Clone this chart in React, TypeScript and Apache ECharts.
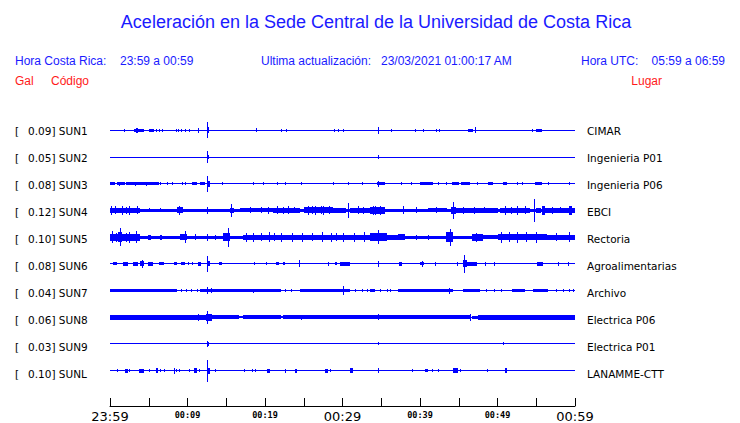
import React, { useEffect, useRef } from "react";
import * as echarts from "echarts";

// ---------- data ----------
const TITLE = "Aceleración en la Sede Central de la Universidad de Costa Rica";
const TIME_LABELS = ["23:59", "00:09", "00:19", "00:29", "00:39", "00:49", "00:59"];
const BIG_LABELS = ["23:59", "00:29", "00:59"];
const STATIONS = ["SUN1", "SUN2", "SUN3", "SUN4", "SUN5", "SUN6", "SUN7", "SUN8", "SUN9", "SUNL"];
const PEAK_GAL = ["0.09", "0.05", "0.08", "0.12", "0.10", "0.08", "0.04", "0.06", "0.03", "0.10"];
const PLACES = [
  "CIMAR", "Ingenieria P01", "Ingenieria P06", "EBCI", "Rectoria",
  "Agroalimentarias", "Archivo", "Electrica P06", "Electrica P01", "LANAMME-CTT",
];
// background noise half-amplitude of each trace
const BASE_NOISE = [0.5, 0.5, 0.5, 1.2, 1.5, 0.5, 0.5, 0.5, 0.5, 0.5];

// envelope segments: [start minute, end minute, half amplitude]
const SUN1_EVENTS = [
  [1.85, 1.85, 1.5], [3.1, 4.4, 1.6], [3.4, 3.6, 2.5], [5.0, 5.7, 1.6], [5.9, 5.9, 1.5],
  [6.3, 6.3, 1.5], [6.7, 6.7, 1.5], [8.5, 8.5, 1.5], [8.8, 8.8, 1.5], [9.1, 9.1, 1.5],
  [9.7, 9.7, 1.5], [10.2, 10.2, 1.5], [11.4, 11.4, 2.5], [12.55, 12.55, 8], [12.5, 12.8, 3],
  [18.8, 18.8, 2], [22.0, 22.0, 1.5], [22.7, 22.7, 1.5], [28.9, 28.9, 1.5], [29.4, 29.4, 1.5],
  [30.0, 30.0, 1.5], [34.6, 34.6, 3.5], [36.2, 36.2, 1.5], [39.4, 39.4, 1.5], [40.4, 40.4, 1.5],
  [42.0, 42.0, 1.5], [42.5, 42.5, 1.5], [46.2, 46.9, 1.6], [47.1, 47.1, 3], [54.5, 54.5, 1.5],
  [55.0, 55.7, 1.8],
];
const SUN2_EVENTS = [[12.55, 12.55, 6], [12.5, 12.8, 2], [34.6, 34.6, 2]];
const SUN3_EVENTS = [
  [0, 0.7, 1.5], [0.9, 1.9, 1.5], [2.1, 6.3, 1.5], [1.2, 1.3, 2], [3.2, 3.3, 2], [4.6, 4.7, 2],
  [6.5, 6.6, 1.5], [7.3, 7.3, 1.5], [8.0, 8.0, 1.5], [9.3, 9.3, 1.5], [9.7, 9.7, 1.5],
  [10.6, 11.2, 1.3], [11.6, 12.3, 1.5], [12.55, 12.55, 8], [12.5, 12.9, 3], [14.5, 14.5, 1.5],
  [18.5, 18.5, 1.5], [19.7, 19.7, 1.5], [21.5, 21.5, 1.5], [22.6, 22.6, 1.5], [24.7, 24.7, 1.5],
  [28.8, 28.8, 1.5], [30.7, 30.7, 1.5], [32.5, 32.5, 1.5], [34.4, 35.5, 1.5], [34.6, 34.6, 3],
  [37.6, 37.6, 1.5], [38.9, 38.9, 1.5], [40.0, 41.7, 1.5], [42.3, 42.3, 1.5], [43.4, 43.4, 1.5],
  [44.1, 45.0, 1.5], [45.3, 46.5, 1.5], [47.3, 47.3, 1.5], [48.8, 49.4, 1.5], [50.7, 51.2, 1.5],
  [52.5, 52.5, 1.5], [53.1, 53.1, 1.5], [54.8, 55.7, 1.5], [56.5, 56.5, 1.5], [59.2, 59.2, 1.5],
];
const SUN4_EVENTS = [
  [0, 3.9, 2.8], [0.1, 0.2, 5], [0.7, 0.8, 4], [1.5, 1.6, 4.5], [2.1, 2.2, 3.5], [2.5, 2.6, 4.5],
  [3.5, 3.6, 4], [5, 5.2, 2], [6.5, 6.6, 2], [8.6, 9.4, 3], [8.9, 9.0, 4.5],
  [12.55, 12.55, 3.5], [15.6, 15.6, 7], [15.5, 16, 2.5], [16.8, 21, 2], [18, 18.1, 3],
  [19.5, 19.6, 3], [20.4, 20.5, 3.5], [21, 24.5, 2.3], [21.5, 21.6, 4], [22.3, 22.4, 3.5],
  [23, 23.1, 4], [23.8, 23.9, 3], [25, 28.8, 3], [25.5, 25.6, 4.5], [26.1, 26.2, 4],
  [26.5, 26.6, 5], [27.2, 27.3, 4], [27.5, 27.6, 5], [28.2, 28.3, 4], [28.8, 30.5, 2.3],
  [30.7, 30.7, 8], [31, 33.5, 2.3], [32, 32.1, 4], [32.7, 32.8, 3.5], [33.5, 35.5, 3.3],
  [33.9, 34.0, 4.5], [34.2, 34.3, 5], [34.9, 35.0, 4.5], [35.5, 37.5, 1.8], [37.8, 37.8, 4],
  [39.5, 39.6, 3], [41, 43.5, 2], [42, 42.1, 3], [44.2, 44.2, 8.5], [44, 44.6, 3.5],
  [44.6, 50, 2.3], [45.5, 45.6, 3.5], [47, 47.1, 3.5], [48.2, 48.3, 3], [50.3, 54.2, 2.8],
  [51, 51.1, 4.5], [51.7, 51.8, 3.5], [52.5, 52.6, 4.5], [53.5, 53.6, 4], [54.7, 54.7, 11.5],
  [55, 55.6, 2.3], [55.7, 56.1, 4.5], [56.1, 59.3, 2.3], [57, 57.1, 3.5], [58.1, 58.2, 3],
  [59.2, 59.6, 4.5], [59.6, 60, 2.5],
];
const SUN5_EVENTS = [
  [0, 3.9, 3.5], [0.3, 0.4, 6], [0.8, 0.9, 4.5], [1.3, 1.3, 9], [1.0, 1.6, 5], [2.0, 2.1, 4.5],
  [2.5, 2.6, 5.5], [3.3, 3.4, 6], [4.9, 5.3, 2.5], [6.5, 6.7, 2.5], [9.0, 9.9, 3],
  [9.7, 9.7, 6], [11, 11.1, 3], [12.55, 12.55, 3.5], [13.5, 13.6, 2.5], [14.6, 15.5, 4],
  [15.2, 15.2, 9.5], [17.2, 33.5, 2.6], [17.5, 17.6, 4.5], [18.5, 18.6, 4.5], [19.5, 19.6, 4],
  [20.5, 20.6, 5], [21.2, 21.3, 4], [22, 22.1, 4.5], [23.5, 23.6, 4.5], [24.8, 24.9, 4.5],
  [26, 26.1, 4], [27.3, 27.4, 5], [28.5, 28.6, 4.5], [29.2, 29.3, 4], [30, 30.1, 4.5],
  [31.5, 31.6, 4.5], [32.8, 32.9, 5], [33.5, 35.7, 3.8], [34.6, 34.6, 7], [35.7, 37.2, 2.6],
  [37.2, 38, 3], [39.5, 39.6, 2.5], [41, 41.1, 2.5], [43.4, 44.3, 5], [43.9, 43.9, 8.5],
  [46.7, 48.1, 3.5], [47.2, 47.3, 4.5], [48.1, 50, 2.3], [50, 56.4, 3.3], [50.5, 50.6, 5.5],
  [51.5, 51.6, 5], [52.5, 52.6, 5.5], [53.7, 53.8, 5], [55, 55.1, 5.5], [56.4, 60, 2.6],
  [57.5, 57.6, 4], [59.2, 59.3, 5],
];
const SUN6_EVENTS = [
  [0.4, 0.9, 1.5], [1.7, 2.3, 1.8], [3.0, 3.6, 2], [3.9, 4.4, 2.5], [4.1, 4.1, 4], [4.9, 5.6, 2],
  [6.3, 7.0, 1.6], [8.2, 8.6, 1.6], [9.2, 9.7, 1.6], [10.1, 10.1, 1.5], [10.6, 10.6, 1.5],
  [11.3, 11.7, 2], [12.55, 12.55, 8], [12.5, 12.9, 2.5], [14.1, 14.5, 1.6], [18.6, 18.6, 1.5],
  [20.1, 20.1, 1.5], [21.4, 21.8, 1.6], [22.3, 22.6, 1.5], [24.4, 24.4, 3.5], [28.1, 28.1, 2],
  [29.0, 29.3, 1.6], [29.7, 31, 2], [34.6, 34.6, 3], [37.3, 37.7, 2], [40, 40.5, 1.6],
  [40.3, 40.3, 3], [41.9, 41.9, 2], [44.8, 44.8, 2], [45.5, 46, 3.5], [45.7, 45.7, 9],
  [46, 47.4, 2], [48.4, 48.4, 2], [49.5, 49.5, 2], [55.1, 55.9, 2], [57.8, 57.8, 2],
  [59.1, 59.1, 2],
];
const SUN7_EVENTS = [
  [0, 8.6, 1.2], [0.5, 0.6, 1.8], [2, 2.1, 1.8], [3.5, 3.6, 1.8], [5, 5.1, 1.8], [7, 7.1, 1.8],
  [9.2, 9.2, 1.5], [9.8, 9.8, 1.5], [10.5, 10.5, 1.5], [11.2, 11.2, 1.5], [11.6, 22, 1.2],
  [12.55, 12.55, 3.5], [13, 13.1, 2.5], [18.5, 18.6, 2], [19.8, 20, 1.8], [22.6, 22.6, 1.5],
  [23.3, 23.3, 1.5], [24.5, 31, 1.2], [28.5, 28.6, 1.8], [30, 30, 4.5], [31.6, 31.6, 1.5],
  [32.5, 32.5, 1.5], [33.2, 33.2, 1.5], [33.5, 34.2, 1.2], [34.8, 34.8, 1.5], [35.7, 35.7, 1.5],
  [36.1, 36.1, 1.5], [37.2, 44.3, 1.2], [39, 40.5, 1.8], [43.7, 43.7, 3], [45.5, 47.7, 1.2],
  [48.5, 48.5, 1.5], [49.6, 49.6, 1.5], [50.4, 50.4, 1.5], [51.9, 53.5, 1.2], [52.6, 52.8, 1.8],
  [54.6, 56.5, 1.2], [57.5, 57.5, 1.5], [58.5, 58.5, 1.5], [59.2, 59.2, 1.5], [59.8, 59.8, 1.5],
];
const SUN8_EVENTS = [
  [0, 12.4, 2.5], [11.3, 11.3, 3.5], [12.55, 12.55, 6.5], [12.4, 13.2, 3.5], [13.2, 16.6, 2.2],
  [16.6, 17.2, 1], [17.2, 22, 2], [22, 22.3, 1], [22.3, 46.5, 2], [24.6, 24.6, 2.5],
  [34.6, 34.6, 3], [46.5, 46.5, 3.5], [46.7, 47.5, 1.5], [47.5, 60, 2.5],
];
const SUN9_EVENTS = [[12.55, 12.55, 3], [12.5, 12.8, 2], [34.6, 34.6, 1.5], [50.7, 50.7, 1.5]];
const SUNL_EVENTS = [
  [0.86, 0.86, 1.5], [1.9, 2.3, 2], [2.5, 2.5, 1.5], [3.7, 4.4, 2], [5.0, 5.0, 1.5],
  [5.9, 6.2, 2.5], [6.5, 6.5, 1.5], [7.0, 7.0, 1.5], [8.2, 8.2, 3], [8.5, 8.5, 1.5],
  [8.9, 8.9, 1.5], [10.2, 10.2, 1.5], [10.9, 11.2, 2.5], [11.5, 11.5, 1.5], [12.55, 12.55, 11],
  [12.5, 12.9, 3], [13.5, 13.5, 1.5], [17.3, 17.3, 1.5], [18.3, 18.3, 1.5], [18.7, 18.7, 1.5],
  [20.3, 20.6, 2], [22.6, 22.6, 2], [23.9, 24.1, 2], [27.7, 28.1, 2], [28.4, 28.4, 1.5],
  [31.0, 31.4, 2.5], [34.6, 34.6, 2.5], [39.0, 39.0, 1.5], [40.6, 41.0, 1.5], [41.6, 41.6, 1.5],
  [42.3, 42.3, 1.5], [44.3, 44.9, 2.5], [45.2, 45.2, 1.5], [48.6, 48.6, 1.5], [51.0, 51.2, 2.5],
];
const EVENTS = [
  SUN1_EVENTS, SUN2_EVENTS, SUN3_EVENTS, SUN4_EVENTS, SUN5_EVENTS,
  SUN6_EVENTS, SUN7_EVENTS, SUN8_EVENTS, SUN9_EVENTS, SUNL_EVENTS,
];

// ---------- layout ----------
const TRACE_COLOR = "#0000ff";
const HEAD_BLUE = "#1a1aff";
const HEAD_RED = "#ff1a1a";
const ROW_GAP = 27;
const GRID_LEFT = 110;
const GRID_WIDTH = 465;
const FIRST_ROW_Y = 130.5;
const AXIS_Y = 409;

export default function App() {
  const ref = useRef<HTMLDivElement>(null);

  useEffect(() => {
    if (!ref.current) return;
    const chart = echarts.init(ref.current, null, { renderer: "svg" });

    const data: number[][] = [];
    STATIONS.forEach((_, i) => {
      data.push([0, 60, BASE_NOISE[i], i]);
      EVENTS[i].forEach((e) => data.push([e[0], e[1], e[2], i]));
    });

    const n = STATIONS.length;
    const gridTop = FIRST_ROW_Y - ROW_GAP / 2;
    const gridHeight = n * ROW_GAP;
    const gridBottomY = gridTop + gridHeight;

    const headFont = "12px 'Liberation Sans', Arial, sans-serif";
    const labelFont = "10.5px 'DejaVu Sans', sans-serif";
    const graphics: any[] = [
      { type: "text", x: 376, y: 22, style: { text: TITLE, fill: HEAD_BLUE, font: "18px 'Liberation Sans', Arial, sans-serif", textAlign: "center", textVerticalAlign: "middle" } },
      { type: "text", x: 15, y: 61, style: { text: "Hora Costa Rica:", fill: HEAD_BLUE, font: headFont, textVerticalAlign: "middle" } },
      { type: "text", x: 120, y: 61, style: { text: "23:59 a 00:59", fill: HEAD_BLUE, font: headFont, textVerticalAlign: "middle" } },
      { type: "text", x: 261, y: 61, style: { text: "Ultima actualización:", fill: HEAD_BLUE, font: headFont, textVerticalAlign: "middle" } },
      { type: "text", x: 381, y: 61, style: { text: "23/03/2021 01:00:17 AM", fill: HEAD_BLUE, font: headFont, textVerticalAlign: "middle" } },
      { type: "text", x: 581, y: 61, style: { text: "Hora UTC:", fill: HEAD_BLUE, font: headFont, textVerticalAlign: "middle" } },
      { type: "text", x: 725, y: 61, style: { text: "05:59 a 06:59", fill: HEAD_BLUE, font: headFont, textAlign: "right", textVerticalAlign: "middle" } },
      { type: "text", x: 15, y: 81, style: { text: "Gal", fill: HEAD_RED, font: headFont, textVerticalAlign: "middle" } },
      { type: "text", x: 51, y: 81, style: { text: "Código", fill: HEAD_RED, font: headFont, textVerticalAlign: "middle" } },
      { type: "text", x: 662, y: 81, style: { text: "Lugar", fill: HEAD_RED, font: headFont, textAlign: "right", textVerticalAlign: "middle" } },
    ];
    STATIONS.forEach((s, i) => {
      const y = FIRST_ROW_Y + i * ROW_GAP;
      graphics.push({ type: "text", x: 15, y, style: { text: "[", fill: "#000", font: labelFont, textVerticalAlign: "middle" } });
      graphics.push({ type: "text", x: 28, y, style: { text: `${PEAK_GAL[i]}] ${s}`, fill: "#000", font: labelFont, textVerticalAlign: "middle" } });
      graphics.push({ type: "text", x: 587, y, style: { text: PLACES[i], fill: "#000", font: labelFont, textVerticalAlign: "middle" } });
    });

    chart.setOption({
      animation: false,
      backgroundColor: "#ffffff",
      grid: { left: GRID_LEFT, width: GRID_WIDTH, top: gridTop, height: gridHeight },
      xAxis: {
        type: "value",
        position: "bottom",
        min: 0,
        max: 60,
        interval: 5,
        offset: AXIS_Y - gridBottomY,
        splitLine: { show: false },
        axisLine: { show: true, onZero: false, lineStyle: { color: "#000", width: 1 } },
        axisTick: { show: true, inside: true, length: 8, lineStyle: { color: "#000" } },
        axisLabel: {
          margin: 4,
          interval: 0,
          showMinLabel: true,
          showMaxLabel: true,
          formatter: (v: number) => {
            if (v % 10 !== 0) return "";
            const lab = TIME_LABELS[v / 10];
            return BIG_LABELS.includes(lab) ? `{big|${lab}}` : `{small|${lab}}`;
          },
          rich: {
            big: { fontSize: 13, fontFamily: "DejaVu Sans", color: "#000", lineHeight: 13 },
            small: { fontSize: 8.5, fontFamily: "DejaVu Sans Mono", fontWeight: "bold", color: "#000", lineHeight: 9 },
          },
        },
      },
      yAxis: {
        type: "value",
        inverse: true,
        min: -ROW_GAP / 2,
        max: (n - 0.5) * ROW_GAP,
        show: false,
        splitLine: { show: false },
      },
      graphic: graphics,
      series: [
        {
          type: "custom",
          coordinateSystem: "cartesian2d",
          encode: { x: [0, 1], y: 2 },
          clip: false,
          data,
          renderItem: (params: any, api: any) => {
            const t0 = api.value(0);
            const t1 = api.value(1);
            const a = api.value(2);
            const row = api.value(3);
            const c = row * ROW_GAP;
            const p0 = api.coord([t0, c - a]);
            const p1 = api.coord([t1, c + a]);
            let x0 = Math.round(p0[0]);
            let x1 = Math.round(p1[0]);
            if (x1 - x0 < 1) x1 = x0 + 1;
            const yTop = Math.min(p0[1], p1[1]);
            const yBot = Math.max(p0[1], p1[1]);
            let y0 = Math.round(yTop);
            let y1 = Math.round(yBot);
            if (y1 - y0 < 1) y1 = y0 + 1;
            return {
              type: "rect",
              shape: { x: x0, y: y0, width: x1 - x0, height: y1 - y0 },
              style: { fill: TRACE_COLOR },
            };
          },
        },
      ],
    });

    return () => chart.dispose();
  }, []);

  return (
    <div
      ref={ref}
      style={{ position: "absolute", left: 0, top: 0, width: 740, height: 423, background: "#fff" }}
    />
  );
}
